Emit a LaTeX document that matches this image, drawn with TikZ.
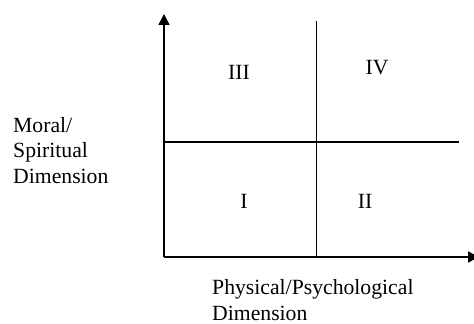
\documentclass[tikz,border=0pt]{standalone}
\usepackage{fontspec}
\setmainfont{Liberation Serif}
\usepackage{tikz}
\usetikzlibrary{arrows.meta,positioning}
\tikzset{
  axisline/.style={-{Triangle[length=11pt,width=11pt]},line width=1.5pt},
  gridline/.style={line width=1.5pt},
  quadlabel/.style={font=\fontsize{21.7}{25.5}\selectfont,inner sep=0pt},
  axislabel/.style={align=left,anchor=north west,inner sep=0pt,font=\fontsize{21.7}{25.5}\selectfont},
}

\begin{document}
\begin{tikzpicture}[x=1pt,y=1pt]
      \useasboundingbox (0,0) rectangle (474,324);
      \coordinate (origin) at (164,67);
      \coordinate (ytip) at (164,310);
      \coordinate (xtip) at (479,67);
      \coordinate (vtop) at (316.5,303);
      \coordinate (vbot) at (316.5,67);
      \coordinate (hleft) at (164,182);
      \coordinate (hright) at (459,182);
      \draw[axisline] (origin)--(ytip);
      \draw[axisline] (origin)--(xtip);
      \draw[gridline] (vbot)--(vtop);
      \draw[gridline] (hleft)--(hright);
      \foreach \nm/\xx/\yy/\lab in {qone/244/123/I,qtwo/365/123/II,qthree/239/252/III,qfour/377/256/IV}{
        \node[quadlabel] (\nm) at (\xx,\yy) {\lab};
      }
      \node[axislabel] (ylab) at (13,207) {Moral/\\Spiritual\\Dimension};
      \node[axislabel] (xlab) at (212,44.5) {Physical/Psychological\\Dimension};
    \end{tikzpicture}
\end{document}
